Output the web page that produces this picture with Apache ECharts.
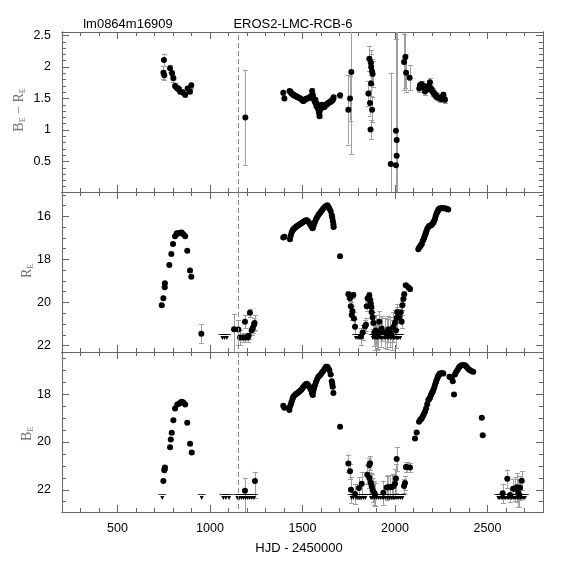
<!DOCTYPE html>
<html><head><meta charset="utf-8">
<script src="https://cdn.jsdelivr.net/npm/echarts@6/dist/echarts.min.js"></script>
<style>html,body{margin:0;padding:0;background:#fff}#c{width:574px;height:574px}</style>
</head><body><div id="c"></div>
<script>
// ---------------- DATA ----------------
// tick labels
const xMajor = [500, 1000, 1500, 2000, 2500];
const colourMajor = [0.5, 1, 1.5, 2, 2.5];
const rMajor = [16, 18, 20, 22];
const bMajor = [18, 20, 22];
const eventDay = 1153; // dashed vertical marker (HJD-2450000)

// B_E - R_E colour : [day, value, error]   (error may be [minus, plus])
const colourObs = [
 [748,1.91,0.10],[751,2.11,0.10],[753,1.87,0.08],[784,1.98,0.06],[795,1.90,0.05],[802,1.82,0.05],[811,1.70,0.04],[820,1.67,0.04],[825,1.66,0.04],[832,1.65,0.04],[838,1.61,0.04],[852,1.60,0.04],[866,1.56,0.04],[879,1.66,0.04],[892,1.61,0.04],[899,1.71,0.04],
 [1191,1.20,0.75],
 [1396,1.59,0.03],[1402,1.50,0.03],[1430,1.62,0.03],[1434,1.61,0.03],[1438,1.59,0.03],[1442,1.58,0.03],[1446,1.57,0.03],[1450,1.56,0.03],[1455,1.55,0.03],[1460,1.54,0.03],[1465,1.54,0.03],[1470,1.53,0.03],[1476,1.52,0.03],[1482,1.51,0.03],[1488,1.50,0.03],[1494,1.49,0.03],[1500,1.47,0.03],[1505,1.46,0.03],[1510,1.48,0.03],[1516,1.49,0.03],[1522,1.50,0.03],[1528,1.50,0.03],[1534,1.51,0.03],[1540,1.52,0.03],[1546,1.54,0.03],[1552,1.62,0.04],[1556,1.55,0.03],[1560,1.50,0.03],[1564,1.47,0.03],[1568,1.44,0.03],[1570,1.48,0.03],[1572,1.43,0.03],[1575,1.38,0.03],[1576,1.42,0.03],[1580,1.40,0.03],[1583,1.34,0.03],[1585,1.36,0.03],[1588,1.30,0.03],[1590,1.27,0.03],[1592,1.22,0.03],[1596,1.32,0.03],[1600,1.38,0.03],[1605,1.40,0.03],[1610,1.38,0.03],[1615,1.36,0.03],[1620,1.38,0.03],[1625,1.40,0.03],[1630,1.41,0.03],[1635,1.42,0.03],[1640,1.43,0.03],[1645,1.44,0.03],[1650,1.45,0.03],[1655,1.46,0.03],[1660,1.47,0.03],[1665,1.49,0.03],[1668,1.52,0.03],
 [1703,1.55,0.04],[1748,1.32,0.55],[1757,1.50,0.35],[1764,1.92,1.3],
 [1856,1.58,0.2],[1861,2.13,0.2],[1865,1.43,0.2],[1868,1.01,0.15],[1869,2.07,0.2],[1871,2.00,0.2],[1871,1.74,0.2],[1876,1.93,0.2],[1876,1.32,0.2],[1879,1.89,0.2],
 [1977,0.46,1.45],[2005,0.99,2.0],[2009,0.84,2.0],[2009,0.59,2.0],[2005,0.44,2.0],
 [2049,2.08,0.45],[2056,2.16,0.5],[2060,1.91,0.3],[2079,1.83,0.2],
 [2131,1.66,0.06],[2135,1.71,0.05],[2144,1.73,0.05],[2150,1.70,0.05],[2156,1.68,0.05],[2162,1.69,0.05],[2162,1.61,0.05],[2168,1.67,0.05],[2171,1.68,0.05],[2176,1.66,0.05],[2180,1.65,0.05],[2185,1.70,0.05],[2189,1.76,0.06],[2193,1.66,0.05],[2198,1.64,0.05],[2203,1.61,0.05],[2207,1.59,0.05],[2212,1.58,0.05],[2216,1.56,0.05],[2221,1.55,0.05],[2225,1.53,0.05],[2230,1.52,0.05],[2239,1.51,0.05],[2245,1.50,0.05],[2252,1.49,0.05],[2258,1.53,0.05],[2261,1.56,0.05],[2265,1.50,0.05],[2270,1.48,0.05]
];

// R_E magnitudes : [day, mag, error]
const rObs = [
 [739,20.13,0.05],[748,19.80,0.05],[755,19.29,0.05],[756,19.11,0.05],[780,18.26,0.04],[791,17.75,0.04],[800,17.29,0.04],[811,16.92,0.03],[820,16.78,0.03],[827,16.80,0.03],[834,16.78,0.03],[841,16.76,0.03],[847,16.75,0.03],[856,16.83,0.03],[866,16.92,0.03],[877,17.60,0.04],[892,18.52,0.05],[899,18.80,0.05],
 [953,21.45,0.43],
 [1130,21.24,[0.72,1.2]],[1153,21.26,[0.45,0.7]],[1162,21.63,0.35],[1177,21.63,0.2],[1189,20.90,0.3],[1189,21.63,0.2],[1204,21.63,0.2],[1209,21.55,0.15],[1216,20.48,0.2],[1225,21.29,0.2],[1231,21.18,0.25],[1238,21.03,0.3],[1241,20.95,0.35],
 [1396,16.98,0.02],[1402,16.95,0.02],[1432,17.06,0.02],[1436,16.90,0.02],[1441,16.75,0.02],[1446,16.67,0.02],[1450,16.60,0.02],[1455,16.56,0.02],[1460,16.52,0.02],[1465,16.49,0.02],[1471,16.45,0.02],[1477,16.41,0.02],[1483,16.38,0.02],[1489,16.35,0.02],[1495,16.32,0.02],[1501,16.28,0.02],[1507,16.24,0.02],[1514,16.21,0.02],[1519,16.19,0.02],[1523,16.18,0.02],[1529,16.23,0.02],[1535,16.29,0.02],[1540,16.36,0.02],[1546,16.44,0.02],[1551,16.51,0.02],[1555,16.55,0.02],[1558,16.47,0.02],[1562,16.37,0.02],[1567,16.26,0.02],[1573,16.14,0.02],[1579,16.04,0.02],[1586,15.94,0.02],[1592,15.87,0.02],[1598,15.80,0.02],[1605,15.72,0.02],[1612,15.64,0.02],[1620,15.57,0.02],[1627,15.52,0.02],[1634,15.49,0.02],[1640,15.56,0.02],[1645,15.64,0.02],[1652,15.75,0.02],[1658,15.95,0.02],[1661,16.06,0.02],[1664,16.22,0.02],[1667,16.37,0.02],[1668,16.49,0.02],
 [1703,17.85,0.03],
 [1748,19.62,0.15],[1757,19.80,0.15],[1761,20.18,0.2],[1766,20.58,0.25],[1770,20.40,0.25],[1775,19.65,0.15],[1778,20.74,0.3],[1784,21.13,0.35],[1816,21.58,0.4],[1825,21.40,0.35],[1838,21.12,0.3],[1843,21.03,0.3],[1847,20.18,0.2],[1852,19.82,0.15],[1856,19.83,0.15],[1861,19.66,0.15],[1865,19.89,0.15],[1869,20.05,0.2],[1872,20.21,0.2],[1874,20.45,0.2],[1879,20.70,0.25],[1883,20.95,0.3],[1888,21.40,0.6],[1892,21.52,0.7],[1897,21.30,0.7],[1901,21.52,0.7],[1910,21.45,0.7],[1915,20.90,0.5],[1922,21.35,0.7],[1928,21.21,0.6],[1945,21.40,0.7],[1955,21.45,0.7],[1964,21.24,0.6],[1973,21.37,0.7],[1982,21.52,0.7],[1991,21.14,0.7],[2000,20.94,0.6],[2005,21.30,0.8],[2009,20.72,0.5],[2012,20.44,0.35],[2018,20.66,0.3],[2023,20.67,0.3],[2031,20.45,0.3],[2036,20.89,0.3],[2040,20.13,0.2],[2045,19.84,0.2],[2050,19.62,0.15],[2058,19.20,0.1],[2072,19.29,0.1],[2081,19.37,0.1],
 [2126,17.53,0.02],[2131,17.45,0.02],[2135,17.40,0.02],[2140,17.34,0.02],[2144,17.29,0.02],[2150,17.14,0.02],[2155,17.05,0.02],[2158,16.98,0.02],[2162,16.88,0.02],[2166,16.78,0.02],[2170,16.68,0.02],[2175,16.57,0.02],[2180,16.50,0.02],[2186,16.44,0.02],[2192,16.42,0.02],[2198,16.40,0.02],[2203,16.35,0.02],[2207,16.29,0.02],[2212,16.20,0.02],[2216,16.11,0.02],[2220,15.98,0.02],[2225,15.86,0.02],[2230,15.77,0.02],[2234,15.70,0.02],[2238,15.66,0.02],[2243,15.63,0.02],[2250,15.62,0.02],[2258,15.63,0.02],[2266,15.63,0.02],[2276,15.64,0.02],[2282,15.66,0.02],[2288,15.68,0.02]
];
// R_E upper limits : [day, mag]
const rLim = [
 [1067,21.6],[1078,21.6],[1091,21.6],
 [1789,21.6],[1800,21.6],[1810,21.6],[1880,21.6],[1886,21.6],[1893,21.6],[1900,21.6],[1906,21.6],[1913,21.6],[1920,21.6],[1927,21.6],[1935,21.6],[1942,21.6],[1950,21.6],[1958,21.6],[1966,21.6],[1974,21.6],[1982,21.6],[1990,21.6],[1998,21.6],[2006,21.6],[2013,21.6],[2020,21.6],[2028,21.6]
];

// B_E magnitudes : [day, mag, error]
const bObs = [
 [748,21.63,0.06],[753,21.18,0.05],[755,21.11,0.05],[756,21.07,0.05],[784,20.22,0.04],[788,19.90,0.04],[793,19.62,0.04],[802,19.09,0.04],[811,18.60,0.03],[823,18.43,0.03],[834,18.39,0.03],[841,18.35,0.03],[847,18.32,0.03],[856,18.35,0.03],[866,18.43,0.03],[877,19.20,0.04],[892,20.08,0.04],[901,20.44,0.05],
 [1189,22.04,[0.53,1.0]],[1243,21.63,[0.38,0.7]],
 [1396,18.49,0.02],[1402,18.57,0.02],[1429,18.67,0.02],[1432,18.53,0.02],[1437,18.42,0.02],[1441,18.32,0.02],[1446,18.20,0.02],[1450,18.11,0.02],[1458,18.05,0.02],[1465,18.00,0.02],[1471,17.96,0.02],[1477,17.93,0.02],[1483,17.89,0.02],[1489,17.85,0.02],[1495,17.81,0.02],[1501,17.74,0.02],[1507,17.67,0.02],[1514,17.62,0.02],[1519,17.59,0.02],[1523,17.57,0.02],[1529,17.61,0.02],[1535,17.67,0.02],[1540,17.75,0.02],[1546,17.83,0.02],[1551,17.95,0.02],[1555,18.04,0.02],[1558,17.90,0.02],[1562,17.77,0.02],[1567,17.63,0.02],[1573,17.49,0.02],[1579,17.38,0.02],[1586,17.28,0.02],[1592,17.23,0.02],[1598,17.18,0.02],[1605,17.10,0.02],[1612,17.03,0.02],[1620,16.94,0.02],[1627,16.86,0.02],[1634,16.86,0.02],[1640,16.93,0.02],[1645,17.00,0.02],[1652,17.18,0.02],[1658,17.46,0.02],[1661,17.58,0.02],[1663,17.69,0.02],[1667,17.95,0.02],
 [1703,19.37,0.03],
 [1748,20.90,0.37],[1757,21.23,0.3],[1762,22.00,0.55],[1784,22.18,0.4],[1805,21.93,0.45],[1820,21.75,0.5],[1850,21.37,0.4],[1861,20.96,0.3],[1865,20.89,0.3],[1861,21.51,0.4],[1869,21.72,0.4],[1874,21.85,0.5],[1879,22.02,0.5],[1888,22.14,0.5],[1892,22.20,0.5],[1937,22.12,0.5],[1955,21.91,0.5],[1964,21.90,0.5],[1973,21.90,0.5],[1982,21.88,0.5],[1991,21.85,0.5],[2000,21.75,0.6],[2005,21.53,0.6],[2009,20.71,0.5],[2049,21.84,0.3],[2054,21.72,0.3],[2059,21.05,0.2],[2063,21.05,0.2],[2081,21.07,0.2],
 [2108,19.86,0.03],[2117,19.61,0.03],[2130,19.16,0.02],[2135,19.09,0.02],[2140,19.05,0.02],[2144,19.02,0.02],[2150,18.92,0.02],[2156,18.83,0.02],[2162,18.74,0.02],[2168,18.60,0.02],[2174,18.42,0.02],[2180,18.25,0.02],[2185,18.20,0.02],[2189,18.15,0.02],[2194,18.05,0.02],[2198,17.97,0.02],[2203,17.90,0.02],[2207,17.83,0.02],[2212,17.72,0.02],[2216,17.62,0.02],[2221,17.50,0.02],[2225,17.41,0.02],[2230,17.31,0.02],[2234,17.23,0.02],[2239,17.17,0.02],[2243,17.14,0.02],[2250,17.13,0.02],[2256,17.13,0.02],[2261,17.14,0.02],[2294,17.28,0.02],[2300,17.30,0.02],[2306,17.32,0.02],[2312,17.46,0.02],[2319,18.02,0.02],[2324,17.18,0.02],[2330,17.08,0.02],[2337,17.00,0.02],[2343,16.92,0.02],[2348,16.86,0.02],[2355,16.81,0.02],[2361,16.79,0.02],[2370,16.78,0.02],[2378,16.79,0.02],[2385,16.85,0.02],[2391,16.90,0.02],[2398,16.96,0.02],[2405,17.00,0.02],[2415,17.04,0.02],[2423,17.07,0.02],
 [2469,18.99,0.03],[2474,19.72,0.04],
 [2582,22.15,0.4],[2607,21.54,0.38],[2622,22.22,0.3],[2639,21.96,0.4],[2649,21.96,0.5],[2658,21.90,0.6],[2667,22.14,0.6],[2672,22.22,0.5],[2676,21.92,0.5],[2685,21.62,0.4]
];
// B_E upper limits : [day, mag]
const bLim = [
 [742,22.3],[955,22.3],[1072,22.3],[1086,22.3],[1103,22.3],
 [1148,22.3],[1160,22.3],[1171,22.3],[1182,22.3],[1193,22.3],[1204,22.3],[1215,22.3],[1226,22.3],[1238,22.3],
 [1765,22.3],[1775,22.3],[1790,22.3],[1800,22.3],[1810,22.3],[1820,22.3],[1830,22.3],[1840,22.3],[1870,22.3],[1880,22.3],[1890,22.3],[1900,22.3],[1910,22.3],[1920,22.3],[1930,22.3],[1940,22.3],[1950,22.3],[1960,22.3],[1970,22.3],[1980,22.3],[1990,22.3],[2000,22.3],[2010,22.3],[2020,22.3],[2030,22.3],[2040,22.3],
 [2558,22.3],[2566,22.3],[2574,22.3],[2582,22.3],[2590,22.3],[2598,22.3],[2606,22.3],[2614,22.3],[2622,22.3],[2630,22.3],[2638,22.3],[2646,22.3],[2654,22.3],[2662,22.3],[2670,22.3],[2678,22.3],[2686,22.3],[2694,22.3],[2702,22.3]
];

// ---------------- LAYOUT / STYLE ----------------
const FONT = "'Liberation Sans', Arial, Helvetica, sans-serif";
const SERIF = "'Liberation Serif', 'DejaVu Serif', serif";
const AX = '#666';
const EB = '#a0a0a0';
const XMIN = 200, XMAX = 2800;

function steps(a, b, s, skip) {
  const out = [];
  for (let v = a; v <= b + 1e-9; v += s) {
    const r = Math.round(v * 1000) / 1000;
    if (!skip.some(k => Math.abs(k - r) < 1e-6)) out.push(r);
  }
  return out;
}
const xMinor = steps(300, 2700, 100, xMajor);

const panels = [
  {top: 32, min: 0.016, max: 2.556, inverse: false, major: colourMajor, minor: steps(0.1, 2.5, 0.1, colourMajor), obs: colourObs, lim: null},
  {top: 192, min: 14.87, max: 22.30, inverse: true, major: rMajor, minor: steps(15, 22, 0.5, rMajor), obs: rObs, lim: rLim},
  {top: 352, min: 16.24, max: 22.93, inverse: true, major: bMajor, minor: steps(16.5, 22.5, 0.5, bMajor), obs: bObs, lim: bLim}
];

const grids = [], xAxes = [], yAxes = [], series = [];
const plain = v => String(Math.round(v * 1000) / 1000);

function mkX(g, pos, len, vals, showLabel) {
  return {
    gridIndex: g, type: 'value', min: XMIN, max: XMAX, position: pos,
    splitLine: {show: false},
    axisLine: {show: true, onZero: false, lineStyle: {color: AX, width: 1}},
    axisTick: {show: true, inside: true, length: len, customValues: vals, lineStyle: {color: AX, width: 1}},
    axisLabel: {show: showLabel, customValues: vals, formatter: plain, margin: 10, fontSize: 12.5, color: '#000', fontFamily: FONT}
  };
}
function mkY(g, p, pos, len, vals, showLabel) {
  return {
    gridIndex: g, type: 'value', min: p.min, max: p.max, inverse: p.inverse, position: pos,
    splitLine: {show: false},
    axisLine: {show: true, onZero: false, lineStyle: {color: AX, width: 1}},
    axisTick: {show: true, inside: true, length: len, customValues: vals, lineStyle: {color: AX, width: 1}},
    axisLabel: {show: showLabel, customValues: vals, formatter: plain, margin: 11, fontSize: 12.5, color: '#000', fontFamily: FONT}
  };
}

function renderErr(params, api) {
  const x = api.value(0), a = api.value(1), b = api.value(2);
  const p = api.coord([x, a]), q = api.coord([x, b]);
  const cs = params.coordSys;
  const top = cs.y, bot = cs.y + cs.height;
  let y1 = Math.min(p[1], q[1]), y2 = Math.max(p[1], q[1]);
  const cap1 = y1 >= top, cap2 = y2 <= bot;
  y1 = Math.max(y1, top); y2 = Math.min(y2, bot);
  const X = Math.round(p[0]) + 0.5;
  const st = {stroke: EB, lineWidth: 1};
  const ch = [{type: 'line', shape: {x1: X, y1: y1, x2: X, y2: y2}, style: st}];
  if (cap1) ch.push({type: 'line', shape: {x1: X - 2.5, y1: Math.round(y1) + 0.5, x2: X + 2.5, y2: Math.round(y1) + 0.5}, style: st});
  if (cap2) ch.push({type: 'line', shape: {x1: X - 2.5, y1: Math.round(y2) + 0.5, x2: X + 2.5, y2: Math.round(y2) + 0.5}, style: st});
  return {type: 'group', children: ch};
}

const LIMIT_SYMBOL = 'path://M0,0H16V1.6H0Z M4,4H12L8,12Z';

panels.forEach((p, g) => {
  grids.push({left: 62, right: 31, top: p.top, height: 160});
  const xi = xAxes.length, yi = yAxes.length;
  xAxes.push(mkX(g, 'bottom', 7, xMajor, g === 2));
  xAxes.push(mkX(g, 'bottom', 4, xMinor, false));
  xAxes.push(mkX(g, 'top', 7, xMajor, false));
  xAxes.push(mkX(g, 'top', 4, xMinor, false));
  yAxes.push(mkY(g, p, 'left', 7, p.major, true));
  yAxes.push(mkY(g, p, 'left', 4, p.minor, false));
  yAxes.push(mkY(g, p, 'right', 7, p.major, false));
  yAxes.push(mkY(g, p, 'right', 4, p.minor, false));

  const errData = p.obs.map(d => {
    const e = d[2];
    const lo = Array.isArray(e) ? e[0] : e, hi = Array.isArray(e) ? e[1] : e;
    return [d[0], d[1] - lo, d[1] + hi];
  });
  series.push({
    type: 'custom', xAxisIndex: xi, yAxisIndex: yi, renderItem: renderErr,
    data: errData, encode: {x: 0, y: [1, 2]}, z: 1, silent: true
  });
  if (p.lim) {
    series.push({
      type: 'scatter', xAxisIndex: xi, yAxisIndex: yi, data: p.lim,
      symbol: LIMIT_SYMBOL, symbolSize: [8, 6], itemStyle: {color: '#000', opacity: 1}, z: 2, silent: true
    });
  }
  series.push({
    type: 'scatter', xAxisIndex: xi, yAxisIndex: yi,
    data: p.obs.map(d => [d[0], d[1]]),
    symbol: 'circle', symbolSize: 6, itemStyle: {color: '#000', opacity: 1}, z: 3, silent: true,
    markLine: {
      silent: true, symbol: 'none', animation: false, label: {show: false},
      lineStyle: {type: [5, 3], color: '#888', width: 1, opacity: 1},
      data: [{xAxis: eventDay}]
    }
  });
});

const nameStyle = (t) => ({
  text: t,
  align: 'center', verticalAlign: 'middle',
  rich: {
    m: {fontSize: 14, fontFamily: SERIF, fill: '#777', color: '#777'},
    s: {fontSize: 8, fontFamily: SERIF, fill: '#777', color: '#777', verticalAlign: 'bottom', padding: [8, 0, 0, 0]}
  }
});

const chart = echarts.init(document.getElementById('c'), null, {renderer: 'canvas'});
chart.setOption({
  animation: false,
  backgroundColor: '#fff',
  grid: grids, xAxis: xAxes, yAxis: yAxes, series: series,
  graphic: [
    {type: 'text', x: 128, y: 24, style: {text: 'lm0864m16909', fontSize: 13, fontFamily: FONT, fill: '#000', align: 'center', verticalAlign: 'middle'}},
    {type: 'text', x: 293, y: 24, style: {text: 'EROS2-LMC-RCB-6', fontSize: 13, fontFamily: FONT, fill: '#000', align: 'center', verticalAlign: 'middle'}},
    {type: 'text', x: 299, y: 548, style: {text: 'HJD - 2450000', fontSize: 13, fontFamily: FONT, fill: '#000', align: 'center', verticalAlign: 'middle'}},
    {type: 'text', x: 19, y: 110, rotation: Math.PI / 2, style: nameStyle('{m|B}{s|E}{m| − R}{s|E}')},
    {type: 'text', x: 27, y: 271, rotation: Math.PI / 2, style: nameStyle('{m|R}{s|E}')},
    {type: 'text', x: 27, y: 434, rotation: Math.PI / 2, style: nameStyle('{m|B}{s|E}')}
  ]
});
</script></body></html>
